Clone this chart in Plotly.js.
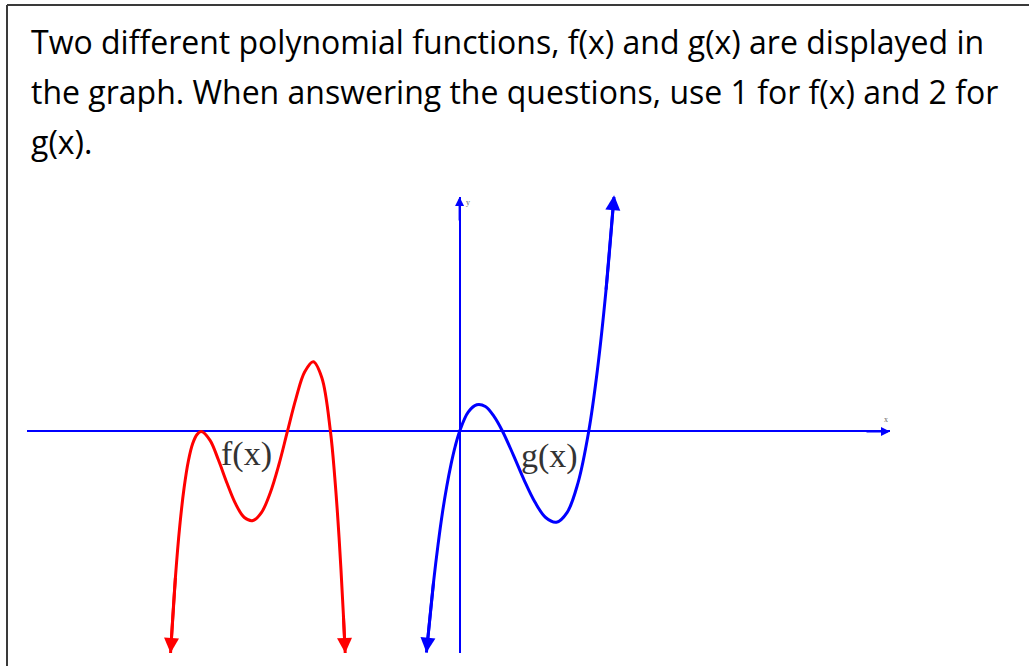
<!DOCTYPE html>
<html>
<head>
<meta charset="utf-8">
<script src="https://cdn.plot.ly/plotly-3.0.1.min.js"></script>
<style>
  html, body { margin: 0; padding: 0; background: #ffffff; }
  #chart { width: 1029px; height: 666px; }
</style>
</head>
<body>
<div id="chart"></div>
<script>
// Prompt text shown above the graph, one entry per line
const promptLines = [
  'Two different polynomial functions, f(x) and g(x) are displayed in',
  'the graph. When answering the questions, use 1 for f(x) and 2 for',
  'g(x).'
];

// f(x): quartic, double root at -6, simple roots at -4 and -3, opening down
const fX = [-6.715, -6.6, -6.5, -6.4, -6.3, -6.2, -6.1, -6.0, -5.8, -5.6, -5.4, -5.2, -5.0,
            -4.8, -4.6, -4.4, -4.2, -4.0, -3.8, -3.6, -3.4, -3.2, -3.0, -2.9, -2.8, -2.7, -2.657];
const fY = [-5.15, -3.37, -2.19, -1.31, -0.68, -0.28, -0.07, 0, -0.2, -0.67, -1.21, -1.69, -2.0,
            -2.07, -1.88, -1.43, -0.78, 0, 0.77, 1.38, 1.62, 1.25, 0, -1.06, -2.46, -4.25, -5.15];

// g(x): cubic with roots at 0, 1 and 3, rising to the right
const gX = [-0.77, -0.6, -0.5, -0.4, -0.3, -0.2, -0.1, 0, 0.2, 0.4, 0.6, 0.8, 1.0,
            1.25, 1.5, 1.75, 2.0, 2.25, 2.5, 2.75, 3.0, 3.2, 3.4, 3.59];
const gY = [-5.14, -3.46, -2.63, -1.9, -1.29, -0.77, -0.34, 0, 0.45, 0.62, 0.58, 0.35, 0,
            -0.55, -1.13, -1.64, -2.0, -2.11, -1.88, -1.2, 0, 1.41, 3.26, 5.49];

// Curve names and where they are written
const curveLabels = ['f(x)', 'g(x)'];
const labelX = [-4.95, 2.09];
const labelY = [-0.53, -0.56];

// Axis extents and axis names
const xRange = [-10.05, 10.0];
const yRange = [-5.15, 5.45];
const axisNames = ['x', 'y'];

const W = 1029, H = 666;
const M = { l: 27, r: 139, t: 197, b: 13 };
const plotW = W - M.l - M.r, plotH = H - M.t - M.b;
const px = v => (v - M.l) / plotW;          // page x -> paper x
const py = v => (H - M.b - v) / plotH;      // page y -> paper y

const RED = '#ff0000', BLUE = '#0000ff';

const traces = [
  { x: fX, y: fY, mode: 'lines', line: { color: RED, width: 3, shape: 'spline', smoothing: 1 }, hoverinfo: 'skip' },
  { x: gX, y: gY, mode: 'lines', line: { color: BLUE, width: 3, shape: 'spline', smoothing: 1 }, hoverinfo: 'skip' }
];

// Arrowheads at the open ends of each curve, pointing away from the neighbouring point
function endArrows(xs, ys, color) {
  const n = xs.length;
  const mk = (i, j) => ({
    x: xs[i], y: ys[i], ax: xs[j], ay: ys[j], xref: 'x', yref: 'y', axref: 'x', ayref: 'y',
    text: '', showarrow: true, arrowhead: 2, arrowsize: 1, arrowwidth: 3, arrowcolor: color, standoff: 0
  });
  return [mk(0, 1), mk(n - 1, n - 2)];
}

const annotations = [];

promptLines.forEach((t, i) => {
  annotations.push({
    text: t, xref: 'paper', yref: 'paper', x: px(29), y: py(41 + 50 * i),
    xanchor: 'left', yanchor: 'middle', showarrow: false,
    font: { family: 'Open Sans, sans-serif', size: 32, color: '#000000' }
  });
});

curveLabels.forEach((t, i) => {
  annotations.push({
    text: t, x: labelX[i], y: labelY[i], xref: 'x', yref: 'y', showarrow: false,
    xanchor: 'center', yanchor: 'middle',
    font: { family: 'Liberation Serif, Times New Roman, serif', size: 34, color: '#333333' }
  });
});

annotations.push(...endArrows(fX, fY, RED), ...endArrows(gX, gY, BLUE));

// Arrowheads on the coordinate axes
annotations.push(
  { x: xRange[1], y: 0, ax: -25, ay: 0, axref: 'pixel', ayref: 'pixel', xref: 'x', yref: 'y',
    text: '', showarrow: true, arrowhead: 2, arrowsize: 0.9, arrowwidth: 2, arrowcolor: BLUE, standoff: 0 },
  { x: 0, y: yRange[1], ax: 0, ay: 25, axref: 'pixel', ayref: 'pixel', xref: 'x', yref: 'y',
    text: '', showarrow: true, arrowhead: 2, arrowsize: 0.9, arrowwidth: 2, arrowcolor: BLUE, standoff: 0 }
);

// Tiny axis names next to the arrowheads
annotations.push(
  { text: axisNames[0], x: 9.9, y: 0.28, xref: 'x', yref: 'y', showarrow: false,
    font: { family: 'Liberation Serif, serif', size: 8, color: '#666666' } },
  { text: axisNames[1], x: 0.2, y: 5.33, xref: 'x', yref: 'y', showarrow: false,
    font: { family: 'Liberation Serif, serif', size: 8, color: '#666666' } }
);

// Frame around the question
const shapes = [
  { type: 'line', xref: 'paper', yref: 'paper', x0: px(7), y0: py(5), x1: px(W + 5), y1: py(5),
    line: { color: '#3a3a3a', width: 2 } },
  { type: 'line', xref: 'paper', yref: 'paper', x0: px(7), y0: py(5), x1: px(7), y1: py(H + 5),
    line: { color: '#3a3a3a', width: 2 } }
];

const axisCommon = {
  showgrid: false, showticklabels: false, ticks: '', showline: false,
  zeroline: true, zerolinecolor: BLUE, zerolinewidth: 2, fixedrange: true
};

const layout = {
  width: W, height: H,
  margin: M,
  paper_bgcolor: '#ffffff', plot_bgcolor: '#ffffff',
  showlegend: false,
  xaxis: Object.assign({}, axisCommon, { range: xRange }),
  yaxis: Object.assign({}, axisCommon, { range: yRange }),
  annotations: annotations,
  shapes: shapes
};

Plotly.newPlot('chart', traces, layout, { displayModeBar: false, staticPlot: true });
</script>
</body>
</html>
